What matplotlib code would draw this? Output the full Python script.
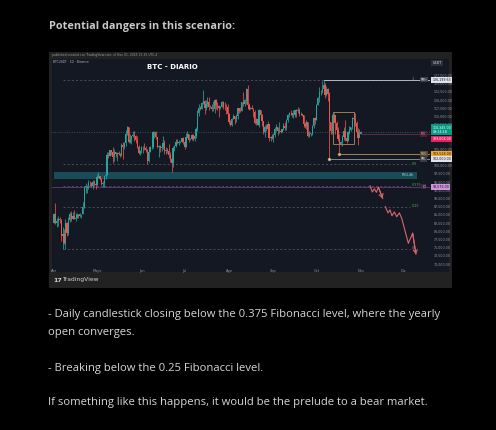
import matplotlib
matplotlib.use('Agg')
import matplotlib.pyplot as plt
import matplotlib.transforms as mtransforms
from matplotlib.patches import Rectangle
import numpy as np

### DATA  (BTC/USDT daily, Apr 1 -> Nov 1 2025, prices in thousands)
first_open = 82.5

apr_c = [85.2, 82.5, 83.1, 83.8, 83.5, 78.4, 79.2, 76.3, 82.6, 79.6, 83.4, 85.3, 83.7, 84.5, 83.6,
         84.0, 84.9, 84.5, 85.1, 85.2, 87.5, 93.4, 93.7, 93.9, 94.7, 94.6, 93.8, 95.0, 94.3, 94.2]
apr_h = [85.5, 88.5, 83.9, 84.7, 84.2, 83.8, 81.2, 80.8, 83.6, 82.7, 84.3, 85.9, 86.1, 85.8, 86.5,
         85.5, 85.5, 85.2, 85.6, 85.3, 88.8, 93.8, 94.7, 94.0, 95.7, 95.3, 95.0, 95.6, 95.5, 95.2]
apr_l = [82.4, 82.3, 81.2, 81.6, 82.4, 77.1, 74.5, 76.2, 74.6, 78.4, 78.9, 82.8, 83.0, 83.7, 83.6,
         83.1, 83.9, 84.1, 84.2, 83.9, 85.1, 87.1, 91.7, 91.7, 92.9, 93.9, 93.6, 92.9, 93.8, 92.9]

may_c = [96.5, 96.9, 95.9, 94.3, 94.7, 96.8, 97.0, 103.2, 102.9, 104.7, 104.1, 102.7, 104.1, 103.5, 103.7,
         103.5, 103.2, 106.4, 105.6, 106.8, 109.6, 111.7, 107.3, 107.9, 108.9, 109.4, 108.9, 107.8, 105.7, 103.9, 104.6]
may_h = [97.4, 97.9, 96.9, 96.3, 95.2, 96.9, 97.7, 104.0, 104.3, 104.9, 104.9, 105.8, 105.0, 104.3, 104.2,
         104.6, 103.7, 107.0, 107.1, 107.3, 110.8, 112.0, 111.8, 109.5, 109.1, 110.4, 110.7, 109.3, 108.9, 106.3, 104.9]
may_l = [94.1, 96.3, 95.7, 94.1, 93.5, 93.4, 95.8, 97.0, 102.3, 102.8, 103.3, 100.7, 101.4, 102.6, 101.4,
         103.1, 102.6, 103.0, 102.0, 105.0, 106.1, 109.3, 106.8, 106.9, 106.6, 108.7, 107.6, 106.8, 105.3, 103.6, 103.1]

jun_c = [105.7, 105.8, 105.4, 104.7, 101.5, 104.3, 105.6, 105.7, 110.2, 110.3, 108.6, 105.7, 106.1, 105.4, 105.6,
         106.8, 104.6, 104.9, 104.6, 103.3, 102.1, 100.9, 105.4, 106.0, 107.3, 106.9, 107.1, 107.3, 108.3, 107.1]
jun_h = [105.9, 105.9, 106.8, 105.9, 105.0, 105.3, 105.9, 106.4, 110.5, 110.4, 110.4, 108.8, 106.2, 106.2, 106.0,
         108.9, 107.8, 105.6, 105.3, 106.5, 104.0, 103.1, 106.1, 106.3, 108.1, 108.0, 107.8, 107.6, 108.5, 108.8]
jun_l = [103.9, 103.7, 104.9, 104.1, 100.4, 101.1, 104.0, 105.0, 105.3, 108.4, 108.1, 105.5, 102.7, 104.3, 104.5,
         105.0, 103.4, 103.5, 103.9, 102.3, 101.0, 98.2, 99.6, 104.6, 105.8, 106.6, 106.4, 106.9, 107.2, 106.7]

jul_c = [105.7, 108.8, 109.6, 107.9, 108.2, 109.2, 108.2, 108.9, 111.3, 115.9, 117.5, 117.4, 119.1, 119.8, 117.7,
         118.7, 119.3, 117.9, 117.9, 117.3, 117.4, 119.9, 118.6, 118.3, 117.6, 117.9, 119.4, 118.0, 117.9, 117.8, 115.7]
jul_h = [107.6, 109.8, 110.6, 109.7, 108.4, 109.7, 109.7, 109.2, 111.9, 116.9, 118.9, 118.2, 119.5, 123.2, 119.9,
         120.0, 120.8, 120.9, 118.5, 118.9, 119.7, 120.2, 120.2, 119.5, 118.4, 118.3, 119.8, 119.8, 119.3, 118.8, 118.9]
jul_l = [105.2, 105.6, 108.5, 107.3, 107.8, 107.8, 107.5, 107.4, 108.3, 110.6, 115.2, 116.9, 117.2, 118.9, 115.7,
         116.9, 117.8, 116.8, 117.5, 116.5, 116.5, 116.1, 117.3, 117.1, 114.7, 117.3, 117.8, 117.4, 116.9, 115.8, 115.5]

aug_c = [113.3, 112.5, 114.2, 115.0, 114.1, 115.0, 117.5, 116.6, 116.5, 119.3, 118.7, 120.1, 123.3, 118.4, 117.4,
         117.5, 117.4, 116.2, 112.9, 114.3, 112.5, 116.9, 115.4, 113.5, 110.1, 111.8, 111.3, 112.6, 108.4, 108.8, 108.3]
aug_h = [116.0, 114.0, 114.4, 115.7, 115.1, 115.7, 117.6, 117.7, 117.9, 119.4, 122.3, 120.3, 123.7, 124.5, 119.2,
         117.9, 118.6, 117.6, 116.8, 114.6, 114.5, 117.4, 117.0, 115.6, 113.6, 112.4, 112.6, 113.5, 112.6, 108.9, 109.5]
aug_l = [112.7, 112.0, 112.1, 114.1, 112.7, 113.4, 114.3, 115.9, 116.3, 116.5, 118.1, 118.1, 118.9, 117.2, 116.8,
         117.2, 117.2, 114.7, 112.7, 112.4, 112.4, 111.7, 114.6, 112.0, 109.7, 108.7, 110.4, 110.9, 107.5, 107.4, 108.1]

sep_c = [109.3, 111.3, 111.7, 110.7, 110.7, 110.2, 111.2, 112.1, 111.5, 113.9, 115.5, 116.1, 115.9, 115.3, 115.4,
         116.8, 116.5, 117.1, 115.7, 115.7, 115.3, 112.7, 112.0, 113.3, 109.0, 109.7, 109.7, 112.2, 114.4, 114.0]
sep_h = [109.9, 111.8, 112.6, 111.8, 113.4, 111.0, 111.3, 112.9, 113.3, 114.3, 115.6, 116.3, 116.8, 116.0, 116.8,
         117.0, 117.3, 117.9, 117.5, 116.2, 115.8, 115.4, 113.3, 113.9, 113.4, 110.4, 110.0, 112.3, 114.5, 114.8]
sep_l = [107.3, 108.6, 110.5, 109.3, 109.9, 110.0, 110.1, 110.9, 110.9, 110.9, 113.4, 114.8, 115.5, 114.8, 114.4,
         114.8, 114.7, 116.1, 115.2, 115.5, 115.1, 111.9, 111.5, 111.1, 108.6, 108.6, 109.1, 109.2, 111.6, 112.7]

oct_c = [118.6, 120.6, 122.3, 122.4, 123.5, 124.7, 121.4, 123.3, 121.7, 113.2, 110.6, 115.2, 115.3, 113.1, 110.8,
         108.2, 106.5, 107.2, 108.7, 110.6, 108.5, 107.6, 110.1, 111.0, 111.7, 114.6, 114.1, 112.9, 110.1, 108.3, 109.6]
oct_h = [118.7, 121.0, 123.9, 122.9, 125.7, 126.2, 125.1, 124.2, 123.8, 122.5, 113.3, 115.8, 116.0, 115.4, 113.6,
         111.8, 109.5, 107.5, 109.4, 111.7, 114.0, 109.2, 110.4, 112.0, 111.9, 114.9, 116.4, 116.1, 113.6, 111.6, 111.2]
oct_l = [113.9, 118.4, 119.3, 121.6, 122.1, 123.1, 120.6, 121.1, 119.6, 102.0, 109.6, 109.7, 113.7, 109.6, 110.2,
         107.6, 103.5, 106.4, 106.1, 107.9, 107.4, 106.8, 107.5, 109.7, 110.7, 111.3, 113.8, 112.2, 109.2, 106.3, 108.6]

nov_c = [110.345]
nov_h = [110.5]
nov_l = [109.5]

month_days = [0, 30, 61, 91, 122, 153, 183, 214, 244]
month_names = ['Abr', 'Mayo', 'Jun', 'Jul', 'Ago', 'Sep', 'Oct', 'Nov', 'Dic']

# fib retracement (Apr low -> Oct high)
fib_low, fib_high = 74.508, 126.19963
fib_ratios = [0, 0.25, 0.375, 0.5, 1]
fib_names = ['0', '0.25', '0.375', '0.5', '1']
fib_start, fib_end = 6, 248.5

fvg_low, fvg_high = 95.9, 98.1
range_box = (194.5, 209.0, 106.7, 116.2)   # day from, day to, low, high

yearly_open = 93.576
month_open = 109.608
pmh_day, pmh = 188, 126.19963
pml_day, pml = 192, 102.0
pwl_day, pwl = 199, 103.528
last_price = 110.345

# projected path (days from Apr 1, price)
proj1_d = [220.4, 222.0, 223.4, 224.8, 226.2, 229.2]
proj1_p = [93.8, 91.95, 92.95, 91.85, 93.4, 90.0]
proj2_d = [231.0, 232.9, 234.3, 235.7, 237.3, 239.0, 240.8, 242.5, 247.1, 250.1, 252.4]
proj2_p = [87.5, 85.6, 86.5, 84.7, 85.9, 84.4, 85.6, 83.9, 76.3, 79.4, 73.0]

### BUILD CANDLES
closes = np.array(apr_c + may_c + jun_c + jul_c + aug_c + sep_c + oct_c + nov_c)
highs = np.array(apr_h + may_h + jun_h + jul_h + aug_h + sep_h + oct_h + nov_h)
lows = np.array(apr_l + may_l + jun_l + jul_l + aug_l + sep_l + oct_l + nov_l)
opens = np.r_[first_open, closes[:-1]]
days = np.arange(len(closes))

up_col, dn_col = '#26a69a', '#ef5350'
cols = np.where(closes >= opens, up_col, dn_col)

W, H = 496, 430
fig = plt.figure(figsize=(W / 100, H / 100), dpi=100, facecolor='black')

def fx(x):
    return x / W

def fy(y):
    return 1 - y / H

# card + chart panel (behind the axes)
fig.patches.append(Rectangle((fx(49), fy(288)), fx(403), 236 / H, transform=fig.transFigure,
                             fc='#222222', ec='none', zorder=-10))
fig.patches.append(Rectangle((fx(52), fy(272)), fx(397), 213 / H, transform=fig.transFigure,
                             fc='#141823', ec='none', zorder=-9))

ax = fig.add_axes([fx(52), fy(267), fx(378), 208 / H])
ax.set_facecolor('#141823')
ax.set_xlim(-1.4, 262.2)
ax.set_ylim(69.09, 132.5)
for s in ax.spines.values():
    s.set_visible(False)

trans = mtransforms.blended_transform_factory(ax.transAxes, ax.transData)

# FVG zone
ax.add_patch(Rectangle((0, fvg_low), 253, fvg_high - fvg_low, fc='#1a4b58', ec='none', zorder=1))
ax.text(251, (fvg_low + fvg_high) / 2, 'FVG-4h', fontsize=2.4, color='#a9d8e0', ha='right', va='center', zorder=2)

# fib levels
for r, nm in zip(fib_ratios, fib_names):
    lvl = fib_low + r * (fib_high - fib_low)
    ax.plot([fib_start, fib_end], [lvl, lvl], color='#5d606b', lw=0.5, ls=(0, (3, 3)), zorder=1)
    c = '#4caf50' if nm not in ('0', '1') else '#9598a1'
    ax.text(fib_end + 0.8, lvl + 0.25, nm, fontsize=2.4, color=c, ha='left', va='center', zorder=2)

# yearly open + last price line
ax.axhline(yearly_open, color='#7a3f8f', lw=0.5, zorder=1)
ax.axhline(last_price, color='#3d6b6c', lw=0.5, ls=(0, (1.5, 2)), zorder=1)

# candles
ax.vlines(days, lows, highs, colors=cols, lw=0.55, zorder=3)
body = np.maximum(np.abs(closes - opens), 0.1)
ax.bar(days, body, bottom=np.minimum(opens, closes), width=0.85, color=cols, lw=0, zorder=4)

# range box
d0, d1, lo, hi = range_box
ax.add_patch(Rectangle((d0, lo), d1 - d0, hi - lo, fill=False, ec='#9c7a54', lw=0.7, zorder=5))

# key levels
ax.plot([pmh_day, 262.2], [pmh, pmh], color='#c9ccd4', lw=0.6, zorder=5)
ax.plot([214, 262.2], [month_open, month_open], color='#6e2f48', lw=0.6, zorder=5)
ax.plot([pwl_day, 262.2], [pwl, pwl], color='#b8935a', lw=0.6, zorder=5)
ax.plot([pml_day, 262.2], [pml, pml], color='#9598a1', lw=0.6, zorder=5)
ax.plot([pwl_day], [pwl], 'o', ms=2.2, mfc='#d8b878', mec='#8c7040', mew=0.3, zorder=6)
ax.plot([pml_day], [pml], 'o', ms=2.2, mfc='#d8c9a0', mec='#8c7b5a', mew=0.3, zorder=6)

# projection
pc = '#d9666c'
ax.plot(proj1_d, proj1_p, color=pc, lw=0.8, zorder=6)
ax.plot(proj2_d, proj2_p, color=pc, lw=0.8, zorder=6)
for dd, pp in ((proj1_d, proj1_p), (proj2_d, proj2_p)):
    ax.annotate('', xy=(dd[-1], pp[-1]), xytext=(dd[-2], pp[-2]),
                arrowprops=dict(arrowstyle='->,head_length=0.25,head_width=0.15', color=pc, lw=0.8,
                                shrinkA=0, shrinkB=0), zorder=7)

# level tags inside the plot
tags = [('PMH', pmh, '#3a3d46', '#d1d4dc'), ('MO', month_open, '#4a2233', '#d1a0b5'),
        ('PWL', pwl, '#5a4a2e', '#e0c080'), ('PML', pml, '#3a3d46', '#d1d4dc'),
        ('YO', yearly_open, '#3c2a48', '#cfa3e0')]
for t, v, fc, tc in tags:
    ax.text(0.983, v, t, transform=trans, fontsize=2.2, color=tc, ha='center', va='center', zorder=8,
            bbox=dict(boxstyle='square,pad=0.25', fc=fc, ec='none'))

# price axis
ticks = [v for v in np.arange(70, 128.0, 2.5) if round(v, 1) not in (110.0, 107.5, 102.5)]
ax.yaxis.tick_right()
ax.set_yticks(ticks)
ax.set_yticklabels([f'{v * 1000:,.2f}' for v in ticks])
ax.tick_params(axis='y', length=0, pad=3, labelsize=2.3, labelcolor='#9598a1')
ax.set_xticks(month_days)
ax.set_xticklabels(month_names)
ax.tick_params(axis='x', length=0, pad=1.2, labelsize=2.5, labelcolor='#9598a1')

boxes = [(pmh, f'{pmh * 1000:,.2f}', '#e0e3eb', '#131722'),
         (last_price + 0.6, f'{last_price * 1000:,.2f}\n09:24:18', '#089981', 'white'),
         (month_open - 1.5, f'{month_open * 1000:,.2f}', '#e91e63', 'white'),
         (pwl, f'{pwl * 1000:,.2f}', '#f0a830', '#131722'),
         (pml, f'{pml * 1000:,.2f}', '#e0e3eb', '#131722'),
         (yearly_open, f'{yearly_open * 1000:,.2f}', '#ce93d8', '#131722')]
for v, t, fc, tc in boxes:
    ax.text(1.006, v, t, transform=trans, fontsize=2.3, color=tc, ha='left', va='center', zorder=9,
            linespacing=1.1, bbox=dict(boxstyle='square,pad=0.35', fc=fc, ec='none'), clip_on=False)

ax.text(1.006, 0.98, 'USDT', transform=ax.transAxes, fontsize=2.4, color='#d1d4dc', ha='left', va='center',
        bbox=dict(boxstyle='square,pad=0.4', fc='#2a2e39', ec='none'))

# chart titles
ax.text(0.003, 0.985, 'BTCUSDT · 1D · Binance', transform=ax.transAxes, fontsize=2.2, color='#b2b5be',
        ha='left', va='center')
fig.text(fx(172), fy(67), 'BTC - DIARIO', fontsize=5, color='white', weight='bold', ha='center', va='center')
fig.text(fx(52), fy(55), 'published created con TradingView.com, el Nov 01, 2025 15:35 UTC-4',
         fontsize=2.2, color='#9a9a9a', ha='left', va='center')
fig.text(fx(53), fy(280), '17', fontsize=4.5, color='#d1d4dc', weight='heavy', ha='left', va='center')
fig.text(fx(62), fy(280), 'TradingView', fontsize=4.3, color='#d1d4dc', ha='left', va='center')

# page text
fam = ['Open Sans', 'DejaVu Sans']
fig.text(fx(49), fy(26.5), 'Potential dangers in this scenario:', fontsize=7.8, weight='bold',
         color='#c8c8c8', ha='left', va='center', family=fam)
body_lines = [(315, '- Daily candlestick closing below the 0.375 Fibonacci level, where the yearly'),
              (333, 'open converges.'),
              (369, '- Breaking below the 0.25 Fibonacci level.'),
              (403, 'If something like this happens, it would be the prelude to a bear market.')]
for y, t in body_lines:
    fig.text(fx(48), fy(y), t, fontsize=8.1, color='#d6d6d6', ha='left', va='center', family=fam)

fig.savefig('out.png', dpi=100, facecolor='black')
